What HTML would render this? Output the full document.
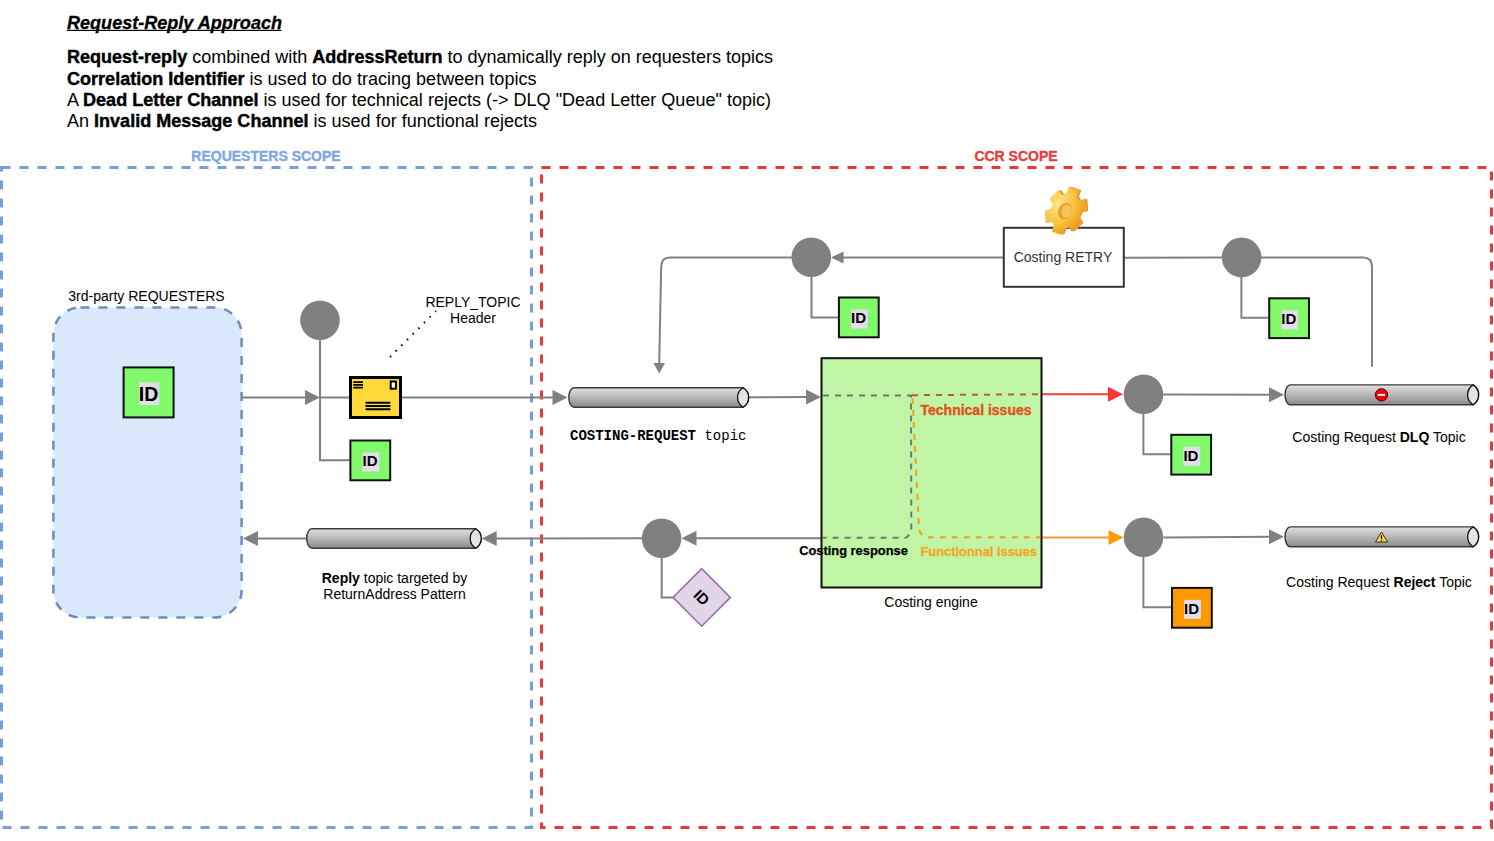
<!DOCTYPE html>
<html><head><meta charset="utf-8">
<style>
html,body{margin:0;padding:0;background:#fff;width:1494px;height:841px;overflow:hidden}
svg{display:block}
text{font-family:"Liberation Sans",sans-serif}
text.mono{font-family:"Liberation Mono",monospace}
</style></head><body>
<svg width="1494" height="841" viewBox="0 0 1494 841">
<defs>
  <linearGradient id="cyl" x1="0" y1="0" x2="0" y2="1">
    <stop offset="0" stop-color="#e2e2e2"/>
    <stop offset="1" stop-color="#8a8a8a"/>
  </linearGradient>
  <radialGradient id="gearg" cx="0.35" cy="0.3" r="0.8">
    <stop offset="0" stop-color="#ffe58a"/>
    <stop offset="0.55" stop-color="#f8c13a"/>
    <stop offset="1" stop-color="#e8921a"/>
  </radialGradient>
</defs>
<rect x="1.5" y="167.5" width="530" height="660" fill="none" stroke="#779dda" stroke-width="3" stroke-dasharray="9 9"/>
<rect x="541.5" y="167.5" width="950" height="660" fill="none" stroke="#e8363a" stroke-width="3" stroke-dasharray="9 9"/>
<rect x="53.4" y="307.4" width="188.2" height="310.1" rx="27" ry="27" fill="#dae8fc" stroke="#6c8ebf" stroke-width="2.5" stroke-dasharray="9 9"/>
<g fill="none" stroke="#808080" stroke-width="2">
<path d="M241,397.5 L306,397.5"/>
<path d="M320,397.5 L349,397.5"/>
<path d="M402,397.5 L553,397.5"/>
<path d="M748.6,397.2 L807,397"/>
<path d="M320,340 L320,460.3 L349.5,460.3"/>
<path d="M1003,257.6 L842,257.4"/>
<path d="M792,257.4 L670,257.4 Q661.3,257.4 661.2,266.5 L659.2,364"/>
<path d="M811.5,277 L811.5,317.5 L838,317.5"/>
<path d="M1124,257.8 L1222,257.5"/>
<path d="M1261,257.5 L1363,257.5 Q1372,257.5 1372,266.5 L1372,366.8"/>
<path d="M1241.4,277 L1241.4,317.7 L1268.2,317.7"/>
<path d="M1163,394.4 L1270,394.7"/>
<path d="M1143.4,414 L1143.4,454.3 L1170.3,454.3"/>
<path d="M1163.5,537.4 L1270,536.8"/>
<path d="M1143.4,557 L1143.4,607.3 L1171,607.3"/>
<path d="M821,538.3 L696,538.3"/>
<path d="M642,538.3 L496,538.4"/>
<path d="M306,538.4 L257,538.4"/>
<path d="M661.7,558 L661.7,597.4 L673,597.4"/>
</g>
<path d="M1041.5,394.2 L1109,394.2" stroke="#f03c3c" stroke-width="2" fill="none"/>
<path d="M1041.5,537.5 L1109,537.5" stroke="#eaa030" stroke-width="2" fill="none"/>
<path d="M320.0,397.5 L305.0,405.0 L305.0,390.0 Z" fill="#808080"/>
<path d="M567.5,397.5 L552.5,405.0 L552.5,390.0 Z" fill="#808080"/>
<path d="M821.0,397.0 L806.0,404.5 L806.0,389.5 Z" fill="#808080"/>
<path d="M831.0,257.4 L843.5,251.4 L843.5,263.4 Z" fill="#808080"/>
<path d="M659.2,373.5 L653.4,363.0 L665.0,363.0 Z" fill="#808080"/>
<path d="M1123.0,394.2 L1108.0,401.7 L1108.0,386.7 Z" fill="#ff3333"/>
<path d="M1284.0,394.7 L1269.0,402.2 L1269.0,387.2 Z" fill="#808080"/>
<path d="M1123.5,537.4 L1108.5,544.9 L1108.5,529.9 Z" fill="#ff9c00"/>
<path d="M1284.0,536.8 L1269.0,544.3 L1269.0,529.3 Z" fill="#808080"/>
<path d="M681.5,538.3 L696.5,530.8 L696.5,545.8 Z" fill="#808080"/>
<path d="M481.7,538.4 L496.7,530.9 L496.7,545.9 Z" fill="#808080"/>
<path d="M243.0,538.4 L258.0,530.9 L258.0,545.9 Z" fill="#808080"/>
<path d="M390,357 L436,311" stroke="#000" stroke-width="2" stroke-dasharray="1.5 6.5" fill="none"/>
<circle cx="320" cy="320.2" r="19.8" fill="#808080"/>
<circle cx="811.3" cy="257.3" r="19.8" fill="#808080"/>
<circle cx="1241.6" cy="257.4" r="19.8" fill="#808080"/>
<circle cx="1143.5" cy="394.3" r="19.8" fill="#808080"/>
<circle cx="1143.5" cy="537.3" r="19.8" fill="#808080"/>
<circle cx="661.6" cy="538.3" r="19.8" fill="#808080"/>
<rect x="123.6" y="367.4" width="50" height="50" fill="#80fa6a" stroke="#111" stroke-width="2"/><rect x="139" y="382.3" width="20.3" height="22.8" fill="#e2dde8"/>
<text x="148.6" y="400.7" font-size="19.5" font-weight="bold" text-anchor="middle">ID</text>
<rect x="350.4" y="440.5" width="39.8" height="39.8" fill="#80fa6a" stroke="#111" stroke-width="2"/><rect x="362.5" y="452.5" width="16.8" height="19" fill="#e2dde8"/>
<text x="370.0" y="466.3" font-size="15" font-weight="bold" text-anchor="middle">ID</text>
<rect x="838.9" y="297.5" width="39.8" height="39.8" fill="#80fa6a" stroke="#111" stroke-width="2"/><rect x="851.0" y="309.5" width="16.8" height="19" fill="#e2dde8"/>
<text x="858.5" y="323.3" font-size="15" font-weight="bold" text-anchor="middle">ID</text>
<rect x="1269.2" y="298.3" width="39.8" height="39.8" fill="#80fa6a" stroke="#111" stroke-width="2"/><rect x="1281.3" y="310.3" width="16.8" height="19" fill="#e2dde8"/>
<text x="1288.8" y="324.1" font-size="15" font-weight="bold" text-anchor="middle">ID</text>
<rect x="1171.3" y="434.8" width="39.8" height="39.8" fill="#80fa6a" stroke="#111" stroke-width="2"/><rect x="1183.3999999999999" y="446.8" width="16.8" height="19" fill="#e2dde8"/>
<text x="1190.9" y="460.6" font-size="15" font-weight="bold" text-anchor="middle">ID</text>
<rect x="1172" y="587.9" width="39.8" height="39.8" fill="#ff9900" stroke="#111" stroke-width="2"/><rect x="1184.1" y="599.9" width="16.8" height="19" fill="#e2dde8"/>
<text x="1191.6" y="613.7" font-size="15" font-weight="bold" text-anchor="middle">ID</text>
<rect x="350.5" y="377.5" width="50" height="40" fill="#ffd83a" stroke="#000" stroke-width="3"/>
<g stroke="#000" stroke-width="1.9"><path d="M353.2,382.1 H363 M353.2,384.9 H363 M353.2,387.6 H363"/><path d="M365.5,402.7 H390.4 M365.5,406 H390.4 M365.5,409.2 H390.4"/></g>
<rect x="390.7" y="381.5" width="5.2" height="7.2" fill="#fff" stroke="#000" stroke-width="2"/>
<path d="M574.10,387.80 L743.10,387.80 A11.30,11.30 0 0 1 743.10,407.20 L574.10,407.20 A5.3,9.70 0 0 1 574.10,387.80 Z" fill="url(#cyl)" stroke="#3a3a3a" stroke-width="1.4"/><path d="M743.10,387.80 A11.30,11.30 0 0 1 743.10,407.20 A11.30,11.30 0 0 1 743.10,387.80 Z" fill="#e4e4e4" stroke="#111" stroke-width="1.3"/>
<path d="M312.00,528.80 L475.70,528.80 A11.30,11.30 0 0 1 475.70,548.20 L312.00,548.20 A5.3,9.70 0 0 1 312.00,528.80 Z" fill="url(#cyl)" stroke="#3a3a3a" stroke-width="1.4"/><path d="M475.70,528.80 A11.30,11.30 0 0 1 475.70,548.20 A11.30,11.30 0 0 1 475.70,528.80 Z" fill="#e4e4e4" stroke="#111" stroke-width="1.3"/>
<path d="M1290.30,384.90 L1473.10,384.90 A11.75,11.75 0 0 1 1473.10,404.80 L1290.30,404.80 A5.3,9.95 0 0 1 1290.30,384.90 Z" fill="url(#cyl)" stroke="#3a3a3a" stroke-width="1.4"/><path d="M1473.10,384.90 A11.75,11.75 0 0 1 1473.10,404.80 A11.75,11.75 0 0 1 1473.10,384.90 Z" fill="#e4e4e4" stroke="#111" stroke-width="1.3"/>
<path d="M1290.30,526.90 L1473.10,526.90 A11.75,11.75 0 0 1 1473.10,546.80 L1290.30,546.80 A5.3,9.95 0 0 1 1290.30,526.90 Z" fill="url(#cyl)" stroke="#3a3a3a" stroke-width="1.4"/><path d="M1473.10,526.90 A11.75,11.75 0 0 1 1473.10,546.80 A11.75,11.75 0 0 1 1473.10,526.90 Z" fill="#e4e4e4" stroke="#111" stroke-width="1.3"/>
<circle cx="1381.5" cy="394.85" r="6.2" fill="#f00000" stroke="#5a0000" stroke-width="1"/>
<rect x="1377.8" y="393.9" width="7.2" height="2" fill="#fff"/>
<path d="M1381.5,532 L1387.5,542 L1375.5,542 Z" fill="#ffd83a" stroke="#333" stroke-width="1"/>
<path d="M1381.5,535.3 V539.2 M1381.5,540.2 V541.2" stroke="#111" stroke-width="1.3"/>
<rect x="821.5" y="358.2" width="220" height="229.3" fill="#c0f5a6" stroke="#111" stroke-width="2"/>
<path d="M823,395.6 L911,395.6 L911.3,533 L906,537.8 L823,537.8" fill="none" stroke="#6b7d6f" stroke-width="2" stroke-dasharray="6 6"/>
<path d="M912,395.2 L1040,394.3" fill="none" stroke="#b85a3e" stroke-width="2" stroke-dasharray="6 6"/>
<path d="M912.5,398 L919,528 Q920,537.3 930,537.3 L1040,537.3" fill="none" stroke="#f3a024" stroke-width="2" stroke-dasharray="6 6"/>
<rect x="1003.8" y="227.8" width="120" height="59" fill="#fff" stroke="#333" stroke-width="2"/>
<g transform="translate(1065,211) rotate(25) scale(0.95,1.2) rotate(-35)"><path d="M14.0,-5.4 L19.8,-5.3 L19.8,5.3 L14.0,5.4 L11.7,9.4 L14.5,14.5 L5.3,19.8 L2.3,14.8 L-2.3,14.8 L-5.3,19.8 L-14.5,14.5 L-11.7,9.4 L-14.0,5.4 L-19.8,5.3 L-19.8,-5.3 L-14.0,-5.4 L-11.7,-9.4 L-14.5,-14.5 L-5.3,-19.8 L-2.3,-14.8 L2.3,-14.8 L5.3,-19.8 L14.5,-14.5 L11.7,-9.4 Z" transform="translate(3,0.5)" fill="#e8922c"/><path d="M14.0,-5.4 L19.8,-5.3 L19.8,5.3 L14.0,5.4 L11.7,9.4 L14.5,14.5 L5.3,19.8 L2.3,14.8 L-2.3,14.8 L-5.3,19.8 L-14.5,14.5 L-11.7,9.4 L-14.0,5.4 L-19.8,5.3 L-19.8,-5.3 L-14.0,-5.4 L-11.7,-9.4 L-14.5,-14.5 L-5.3,-19.8 L-2.3,-14.8 L2.3,-14.8 L5.3,-19.8 L14.5,-14.5 L11.7,-9.4 Z" transform="translate(2,0.3)" fill="#eb9c30"/><path d="M14.0,-5.4 L19.8,-5.3 L19.8,5.3 L14.0,5.4 L11.7,9.4 L14.5,14.5 L5.3,19.8 L2.3,14.8 L-2.3,14.8 L-5.3,19.8 L-14.5,14.5 L-11.7,9.4 L-14.0,5.4 L-19.8,5.3 L-19.8,-5.3 L-14.0,-5.4 L-11.7,-9.4 L-14.5,-14.5 L-5.3,-19.8 L-2.3,-14.8 L2.3,-14.8 L5.3,-19.8 L14.5,-14.5 L11.7,-9.4 Z" transform="translate(1,0.15)" fill="#f0a836"/><path d="M14.0,-5.4 L19.8,-5.3 L19.8,5.3 L14.0,5.4 L11.7,9.4 L14.5,14.5 L5.3,19.8 L2.3,14.8 L-2.3,14.8 L-5.3,19.8 L-14.5,14.5 L-11.7,9.4 L-14.0,5.4 L-19.8,5.3 L-19.8,-5.3 L-14.0,-5.4 L-11.7,-9.4 L-14.5,-14.5 L-5.3,-19.8 L-2.3,-14.8 L2.3,-14.8 L5.3,-19.8 L14.5,-14.5 L11.7,-9.4 Z" fill="url(#gearg)"/><ellipse cx="0" cy="0" rx="7" ry="7.2" fill="#e8a23a"/><ellipse cx="1.6" cy="0.6" rx="5" ry="5.6" fill="#f6c35a"/></g>
<path d="M701.7,568.6 L730.4,597.4 L701.7,626.2 L673,597.4 Z" fill="#e1d5e7" stroke="#9673a6" stroke-width="1.6"/>
<text x="0" y="0" font-size="15" font-weight="bold" text-anchor="middle" transform="translate(701.7,597.4) rotate(45) translate(0,5.4)">ID</text>
<text x="67" y="28.8" font-size="17.5" font-weight="bold" font-style="italic" stroke="#000" stroke-width="0.3" textLength="215" lengthAdjust="spacingAndGlyphs">Request-Reply Approach</text>
<rect x="67" y="29.8" width="214.5" height="1.2" fill="#000"/>
<g font-size="17.5">
<text x="67" y="63.3" textLength="706" lengthAdjust="spacingAndGlyphs"><tspan font-weight="bold" stroke="#000" stroke-width="0.4">Request-reply</tspan> combined with <tspan font-weight="bold" stroke="#000" stroke-width="0.4">AddressReturn</tspan> to dynamically reply on requesters topics</text>
<text x="67" y="84.6" textLength="469.5" lengthAdjust="spacingAndGlyphs"><tspan font-weight="bold" stroke="#000" stroke-width="0.4">Correlation Identifier</tspan> is used to do tracing between topics</text>
<text x="67" y="105.9" textLength="704" lengthAdjust="spacingAndGlyphs">A <tspan font-weight="bold" stroke="#000" stroke-width="0.4">Dead Letter Channel</tspan> is used for technical rejects (-&gt; DLQ "Dead Letter Queue" topic)</text>
<text x="67" y="127.2" textLength="470" lengthAdjust="spacingAndGlyphs">An <tspan font-weight="bold" stroke="#000" stroke-width="0.4">Invalid Message Channel</tspan> is used for functional rejects</text>
</g>
<text x="266" y="160.7" font-size="14" font-weight="bold" fill="#7ea6e0" stroke="#7ea6e0" stroke-width="0.35" text-anchor="middle">REQUESTERS SCOPE</text>
<text x="1016" y="160.7" font-size="14" font-weight="bold" fill="#e63c3c" stroke="#e63c3c" stroke-width="0.35" text-anchor="middle">CCR SCOPE</text>
<text x="146.5" y="300.7" font-size="14" text-anchor="middle">3rd-party REQUESTERS</text>
<text x="473" y="306.7" font-size="14" text-anchor="middle">REPLY_TOPIC</text>
<text x="473" y="323" font-size="14" text-anchor="middle">Header</text>
<text class="mono" x="570" y="439.7" font-size="14"><tspan font-weight="bold">COSTING-REQUEST</tspan> topic</text>
<text x="920.5" y="415" font-size="14" font-weight="bold" fill="#e0521f" stroke="#e0521f" stroke-width="0.35">Technical issues</text>
<text x="920.5" y="555.5" font-size="13" font-weight="bold" fill="#f5a623" stroke="#f5a623" stroke-width="0.3" textLength="116.5" lengthAdjust="spacingAndGlyphs">Functionnal issues</text>
<text x="799.2" y="555" font-size="13.1" font-weight="bold" stroke="#000" stroke-width="0.25" textLength="108.6" lengthAdjust="spacingAndGlyphs">Costing response</text>
<text x="931" y="607.4" font-size="14" text-anchor="middle">Costing engine</text>
<text x="1063" y="262" font-size="14" fill="#333" text-anchor="middle">Costing RETRY</text>
<text x="1379" y="441.7" font-size="14" text-anchor="middle">Costing Request <tspan font-weight="bold">DLQ</tspan> Topic</text>
<text x="1379" y="587.4" font-size="14" text-anchor="middle">Costing Request <tspan font-weight="bold">Reject</tspan> Topic</text>
<text x="394.5" y="583" font-size="14" text-anchor="middle"><tspan font-weight="bold">Reply</tspan> topic targeted by</text>
<text x="394.5" y="599.3" font-size="14" text-anchor="middle">ReturnAddress Pattern</text>
</svg>
</body></html>
